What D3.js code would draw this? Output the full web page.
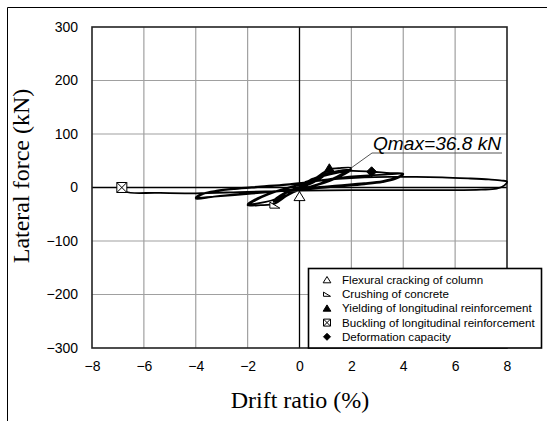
<!DOCTYPE html>
<html>
<head>
<meta charset="utf-8">
<script src="https://cdn.jsdelivr.net/npm/d3@7"></script>
<style>
  body { margin: 0; background: #fff; }
  svg { display: block; }
</style>
</head>
<body>
<svg class="chart" width="547" height="421"></svg>
<script>
// tick labels
const xTicks = [-8, -6, -4, -2, 0, 2, 4, 6, 8];
const yTicks = [-300, -200, -100, 0, 100, 200, 300];

// hysteresis path (drift ratio %, lateral force kN), in loading order
const drift = [
  0, 0.1, 0.25, 0.15, 0, -0.1, -0.25, -0.15, 0,
  0.25, 0.5, 0.35, 0.1, -0.2, -0.5, -0.35, -0.1,
  0.3, 0.7, 1, 0.75, 0.3, -0.2, -0.6, -1, -0.75, -0.3,
  0.2, 0.6, 1, 0.75, 0.3, -0.2, -0.6, -1, -0.75, -0.3,
  0.3, 0.8, 1.15, 1.5, 2, 1.7, 1.2, 0.5, 0, -0.5, -0.95, -1.5, -2, -1.7, -1.2, -0.5,
  0, 0.7, 1.3, 2, 1.7, 1.2, 0.5, 0, -0.7, -1.3, -2, -1.7, -1.2, -0.5,
  0, 0.8, 1.5, 2, 2.78, 3.5, 4, 3.7, 3.2, 2.5, 1.5, 0.5, -0.5, -1.5, -2.5, -3.3, -4, -3.7, -3.2, -2.5, -1.5, -0.5,
  0.5, 1.5, 2.5, 3.3, 4, 3.7, 3.2, 2.5, 1.5, 0.5, -0.5, -1.5, -2.5, -3.3, -4, -3.7, -3.2, -2.5, -1.5, -0.5,
  0.5, 1.5, 2.5, 3.5, 4.5, 5.5, 6.5, 7.3, 7.8, 8, 7.9, 7.6, 7, 6, 4, 2, 0, -2, -4, -5.5, -6.7, -6.85
];
const force = [
  0, 5, 11, 6, 1, -4, -9, -5, 0,
  9, 17, 10, 3, -6, -16, -9, -2,
  9, 20, 27, 17, 5, -6, -18, -27, -17, -5,
  5, 16, 25, 15, 4, -6, -17, -25, -15, -4,
  7, 24, 34, 36, 36.8, 27, 15, 3, -4, -16, -30, -33, -33, -24, -13, -2,
  5, 20, 29, 33, 24, 13, 2, -5, -18, -27, -31, -22, -12, -1,
  6, 20, 28, 31, 29.4, 27, 26, 18, 12, 8, 4, 0, -5, -9, -13, -17, -21, -12, -7, -3, 1, 5,
  11, 18, 22, 24, 25, 16, 10, 6, 2, -2, -6, -10, -14, -17, -19, -11, -6, -2, 2, 6,
  11, 16, 19, 20, 20, 19, 17, 15, 13, 11, 4, -2, -4, -5, -5, -5, -6, -8, -11, -10, -8, 0
];

// damage events
const eventNames = [
  "Flexural cracking of column",
  "Crushing of concrete",
  "Yielding of longitudinal reinforcement",
  "Buckling of longitudinal reinforcement",
  "Deformation capacity"
];
const eventDrift = [0, -0.95, 1.15, -6.85, 2.78];
const eventForce = [-17, -33, 35, 0, 29.4];

const qmax = [2, 36.8];
const qmaxText = "Qmax=36.8 kN";

const svg = d3.select(".chart");

// outer frame (only top and left edges show in the picture)
svg.append("path")
  .attr("d", "M7.5,421V7.5H547")
  .attr("fill", "none")
  .attr("stroke", "#000")
  .attr("stroke-width", 1);

const xScale = d3.scaleLinear().domain([-8, 8]).range([92, 507]);
const yScale = d3.scaleLinear().domain([-300, 300]).range([348, 27]);

// grid
svg.append("g")
  .selectAll("line")
  .data(xTicks.filter(t => t !== 0 && Math.abs(t) !== 8))
  .enter()
  .append("line")
  .attr("x1", d => xScale(d)).attr("x2", d => xScale(d))
  .attr("y1", yScale(300)).attr("y2", yScale(-300))
  .attr("stroke", "#a0a0a0").attr("stroke-width", 1.2);

svg.append("g")
  .selectAll("line")
  .data(yTicks.filter(t => t !== 0 && Math.abs(t) !== 300))
  .enter()
  .append("line")
  .attr("x1", xScale(-8)).attr("x2", xScale(8))
  .attr("y1", d => yScale(d)).attr("y2", d => yScale(d))
  .attr("stroke", "#a0a0a0").attr("stroke-width", 1.2);

// zero lines
svg.append("line")
  .attr("x1", xScale(0)).attr("x2", xScale(0))
  .attr("y1", yScale(300)).attr("y2", yScale(-300))
  .attr("stroke", "#000").attr("stroke-width", 1.3);
svg.append("line")
  .attr("x1", xScale(-8)).attr("x2", xScale(8))
  .attr("y1", yScale(0)).attr("y2", yScale(0))
  .attr("stroke", "#000").attr("stroke-width", 1.3);

// plot border
svg.append("rect")
  .attr("x", xScale(-8)).attr("y", yScale(300))
  .attr("width", xScale(8) - xScale(-8))
  .attr("height", yScale(-300) - yScale(300))
  .attr("fill", "none").attr("stroke", "#222").attr("stroke-width", 1.6);

// axes
const yAxis = svg.append("g")
  .attr("transform", `translate(${xScale(-8)},0)`)
  .call(d3.axisLeft(yScale).tickValues(yTicks).tickSize(0).tickPadding(14));
const xAxis = svg.append("g")
  .attr("transform", `translate(0,${yScale(-300)})`)
  .call(d3.axisBottom(xScale).tickValues(xTicks).tickSize(0).tickPadding(13));
[xAxis, yAxis].forEach(a => {
  a.select(".domain").remove();
  a.selectAll("text")
    .attr("fill", "#000")
    .style("font-family", "'Liberation Sans', Arial, sans-serif")
    .style("font-size", "14px");
});

// axis titles
svg.append("text")
  .attr("transform", "translate(29,176) rotate(-90)")
  .attr("text-anchor", "middle")
  .style("font-family", "'Liberation Serif', 'Times New Roman', serif")
  .style("font-size", "24px")
  .text("Lateral force (kN)");
svg.append("text")
  .attr("x", 300).attr("y", 408)
  .attr("text-anchor", "middle")
  .style("font-family", "'Liberation Serif', 'Times New Roman', serif")
  .style("font-size", "24px")
  .text("Drift ratio (%)");

// hysteresis curve
const points = drift.map((d, i) => [d, force[i]]);
const line = d3.line()
  .x(d => xScale(d[0]))
  .y(d => yScale(d[1]))
  .curve(d3.curveCatmullRom.alpha(0.5));
svg.append("path")
  .datum(points)
  .attr("d", line)
  .attr("fill", "none")
  .attr("stroke", "#000")
  .attr("stroke-width", 1.8)
  .attr("stroke-linejoin", "round");

// marker shapes
function markerPath(i, s) {
  const h = s / 2;
  if (i === 0 || i === 2) return `M0,${-h}L${h * 1.1},${h * 0.8}L${-h * 1.1},${h * 0.8}Z`;
  if (i === 1) return `M${-h},${-h * 0.6}L${-h},${h * 0.6}L${h},${h * 0.6}Z`;
  if (i === 3) return `M${-h},${-h}H${h}V${h}H${-h}ZM${-h},${-h}L${h},${h}M${h},${-h}L${-h},${h}`;
  return `M0,${-h}L${h},0L0,${h}L${-h},0Z`;
}
function markerFill(i) {
  return (i === 2 || i === 4) ? "#000" : "#fff";
}

svg.append("g")
  .selectAll("path")
  .data(eventNames)
  .enter()
  .append("path")
  .attr("transform", (d, i) => `translate(${xScale(eventDrift[i])},${yScale(eventForce[i])})`)
  .attr("d", (d, i) => markerPath(i, 10))
  .attr("fill", (d, i) => markerFill(i))
  .attr("stroke", "#000")
  .attr("stroke-width", 1);

// Qmax annotation
const labelX = 372, labelY = 153;
svg.append("path")
  .attr("d", `M${xScale(qmax[0])},${yScale(qmax[1])}L${labelX},${labelY}H502`)
  .attr("fill", "none")
  .attr("stroke", "#555")
  .attr("stroke-width", 1);
svg.append("text")
  .attr("x", labelX + 1).attr("y", labelY - 3)
  .attr("textLength", 128)
  .attr("lengthAdjust", "spacingAndGlyphs")
  .style("font-family", "'Liberation Sans', Arial, sans-serif")
  .style("font-style", "italic")
  .style("font-size", "18px")
  .text(qmaxText);

// legend
const legend = svg.append("g");
legend.append("rect")
  .attr("x", 308.5).attr("y", 268.5)
  .attr("width", 233).attr("height", 79.5)
  .attr("fill", "#fff")
  .attr("stroke", "#000")
  .attr("stroke-width", 1.6);

const rows = legend.selectAll("g.row")
  .data(eventNames)
  .enter()
  .append("g")
  .attr("class", "row")
  .attr("transform", (d, i) => `translate(327,${280 + i * 14.2})`);
rows.append("path")
  .attr("d", (d, i) => markerPath(i, 7))
  .attr("fill", (d, i) => markerFill(i))
  .attr("stroke", "#000")
  .attr("stroke-width", 1);
rows.append("text")
  .attr("x", 15).attr("dy", "0.35em")
  .style("font-family", "'Liberation Sans', Arial, sans-serif")
  .style("font-size", "11.6px")
  .text(d => d);
</script>
</body>
</html>
